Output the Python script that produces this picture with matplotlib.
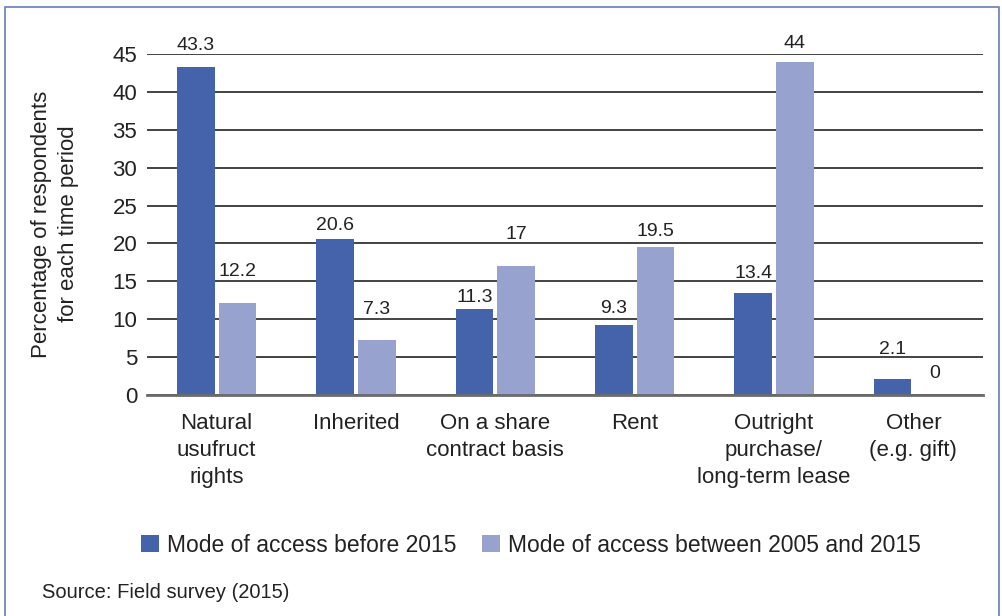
import numpy as np
import matplotlib
matplotlib.use('Agg')
import matplotlib.pyplot as plt
from matplotlib.lines import Line2D

plt.rcParams['font.family'] = ['Liberation Sans', 'DejaVu Sans']

# Dados do gráfico
categorias = ['Natural\nusufruct\nrights', 'Inherited', 'On a share\ncontract basis',
              'Rent', 'Outright\npurchase/\nlong-term lease', 'Other\n(e.g. gift)']
antes_2015 = [43.3, 20.6, 11.3, 9.3, 13.4, 2.1]
entre_2005_2015 = [12.2, 7.3, 17, 19.5, 44, 0]
rotulos_antes = ['43.3', '20.6', '11.3', '9.3', '13.4', '2.1']
rotulos_entre = ['12.2', '7.3', '17', '19.5', '44', '0']
serie_nomes = ['Mode of access before 2015', 'Mode of access between 2005 and 2015']
yticks = [0, 5, 10, 15, 20, 25, 30, 35, 40, 45]

# distância (px) entre o topo da barra e a linha de base do rótulo
desloc_antes = [17, 9, 7, 12, 15, 25]
desloc_entre = [27, 26, 27, 11, 14, 17]

cor_escura = '#4563AA'
cor_clara = '#97A2CE'

fig = plt.figure(figsize=(10.02, 6.16), dpi=100)
ax = fig.add_axes([147/1002, 1-395/616, (983-147)/1002, (395-54)/616])

x = np.arange(len(categorias))
larg = 0.27
b1 = ax.bar(x - 0.15, antes_2015, larg, color=cor_escura, label=serie_nomes[0], zorder=3)
b2 = ax.bar(x + 0.15, entre_2005_2015, larg, color=cor_clara, label=serie_nomes[1], zorder=3)

for barras, rot, desl in [(b1, rotulos_antes, desloc_antes), (b2, rotulos_entre, desloc_entre)]:
    for b, r, d in zip(barras, rot, desl):
        ax.annotate(r, (b.get_x() + b.get_width()/2, b.get_height()),
                    xytext=(0, d*0.72), textcoords='offset points',
                    ha='center', va='baseline', fontsize=14, color='#222222')

ax.set_xlim(-0.5, len(categorias) - 0.5)
ax.set_ylim(0, 45)
ax.set_yticks(yticks)
ax.set_xticks(x)
ax.set_xticklabels(categorias, fontsize=16, color='#222222', linespacing=1.38)
ax.tick_params(axis='y', length=0, pad=7, labelsize=16, labelcolor='#222222')
ax.tick_params(axis='x', length=0, pad=13)
ax.yaxis.grid(True, color='#111111', linewidth=1.1)
ax.set_axisbelow(True)
for s in ['top', 'left', 'right']:
    ax.spines[s].set_visible(False)
ax.spines['bottom'].set_color('#6b6b6b')
ax.spines['bottom'].set_linewidth(2)
ax.spines['bottom'].set_zorder(4)

fig.text(55/1002, 1-224/616, 'Percentage of respondents\nfor each time period',
         rotation=90, ha='center', va='center', multialignment='center',
         fontsize=16, color='#222222', linespacing=1.32)

fig.legend(handles=[b1, b2], loc='center', bbox_to_anchor=(531/1002, 1-545/616),
           ncol=2, frameon=False, fontsize=16.5, handlelength=0.75, handleheight=0.75,
           handletextpad=0.35, columnspacing=1.15, labelcolor='#222222')

fig.text(42/1002, 1-593/616, 'Source: Field survey (2015)', ha='left', va='center',
         fontsize=14.5, color='#222222')

# Moldura da figura
cor_borda = '#7386C3'
fig.add_artist(Line2D([5/1002, 5/1002, 999/1002, 999/1002], [-0.05, 1-7/616, 1-7/616, -0.05],
                      transform=fig.transFigure, color=cor_borda, linewidth=1.3))

fig.savefig('out.png', dpi=100)
